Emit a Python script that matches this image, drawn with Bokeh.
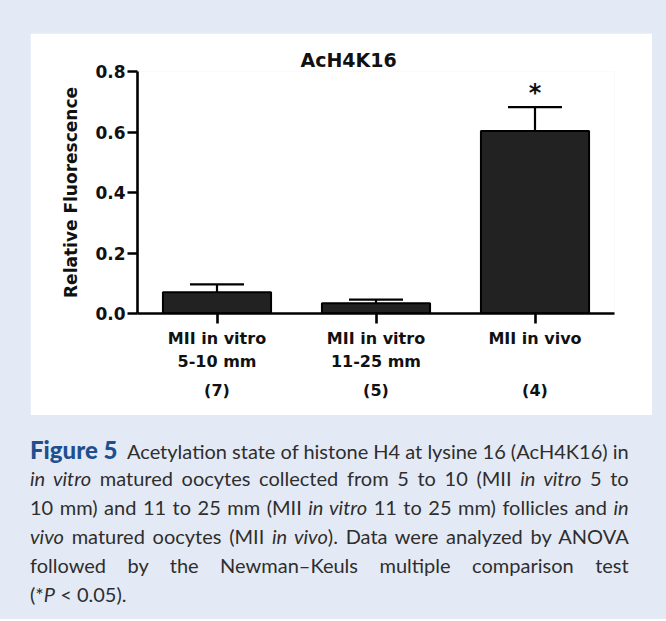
from bokeh.plotting import figure
from bokeh.models import (Range1d, FixedTicker, LinearAxis, Whisker, TeeHead,
                          ColumnDataSource, Div, NumeralTickFormatter, Title)
from bokeh.layouts import column
from bokeh.core.properties import value
from bokeh.embed import file_html
from bokeh.resources import INLINE

# ---------------- data ----------------
chart_title = "AcH4K16"
categories = ["MII in vitro\n5-10 mm", "MII in vitro\n11-25 mm", "MII in vivo"]
n_labels = ["(7)", "(5)", "(4)"]
means = [0.070, 0.034, 0.603]
sems = [0.026, 0.012, 0.079]
marks = ["", "", "*"]
y_ticks = [0.0, 0.2, 0.4, 0.6, 0.8]
y_label = "Relative Fluorescence"

caption_lines = [
    '<b style="color:#1e4f8f;font-size:24px;font-weight:900">Figure 5</b>&nbsp; Acetylation state of histone H4 at lysine 16 (AcH4K16) in',
    '<i>in vitro</i> matured oocytes collected from 5 to 10 (MII <i>in vitro</i> 5 to',
    '10 mm) and 11 to 25 mm (MII <i>in vitro</i> 11 to 25 mm) follicles and <i>in</i>',
    '<i>vivo</i> matured oocytes (MII <i>in vivo</i>). Data were analyzed by ANOVA',
    'followed by the Newman&ndash;Keuls multiple comparison test',
    '(*<i>P</i> &lt; 0.05).',
]

BG = "#e4eaf5"
FONT = "DejaVu Sans"

x_pos = [i + 0.5 for i in range(len(categories))]
src = ColumnDataSource(dict(
    x=x_pos,
    mean=means,
    upper=[m + s for m, s in zip(means, sems)],
    mark=marks,
))

p = figure(frame_width=477, frame_height=242,
           x_range=Range1d(0, len(categories)), y_range=Range1d(0, 0.8),
           output_backend="svg", toolbar_location=None,
           min_border_left=107, min_border_right=38,
           min_border_top=38, min_border_bottom=102,
           margin=(33, 14, 0, 30))
p.title = Title(text=chart_title, align="left", offset=163, standoff=2,
                text_font=FONT, text_font_style="bold", text_font_size="19px",
                text_color="#111111")
p.background_fill_color = "white"
p.border_fill_color = "white"
p.outline_line_color = None
p.grid.grid_line_color = None

p.vbar(x="x", top="mean", width=0.68, source=src,
       fill_color="#222222", line_color="black", line_width=2)

p.add_layout(Whisker(source=src, base="x", upper="upper", lower="mean",
                     dimension="height", line_width=2.2, line_color="black",
                     upper_head=TeeHead(size=54, line_width=2.2, line_color="black"),
                     lower_head=None, level="overlay"))

p.text(x="x", y="upper", text="mark", source=src,
       text_font=value(FONT), text_font_style="bold", text_font_size="24px",
       text_align="center", text_baseline="alphabetic", y_offset=-14,
       text_color="#111111")

def style_axis(ax):
    ax.axis_line_width = 2.6
    ax.axis_line_color = "black"
    ax.major_tick_line_width = 2.6
    ax.major_tick_line_color = "black"
    ax.major_tick_out = 10
    ax.major_tick_in = 0
    ax.minor_tick_line_color = None
    ax.major_label_text_font = FONT
    ax.major_label_text_font_style = "bold"
    ax.major_label_text_font_size = "16px"
    ax.major_label_text_color = "#111111"

# y axis
ya = p.yaxis[0]
style_axis(ya)
ya.ticker = FixedTicker(ticks=y_ticks)
ya.formatter = NumeralTickFormatter(format="0.0")
ya.major_label_text_font_size = "17px"
ya.major_label_standoff = 2
ya.axis_label = y_label
ya.axis_label_text_font = FONT
ya.axis_label_text_font_style = "bold"
ya.axis_label_text_font_size = "17px"
ya.axis_label_text_color = "#111111"
ya.axis_label_standoff = 11

# x axis (categories)
xa = p.xaxis[0]
style_axis(xa)
xa.ticker = FixedTicker(ticks=x_pos)
xa.major_label_overrides = {x: c for x, c in zip(x_pos, categories)}
xa.major_label_standoff = 5
xa.major_label_text_line_height = 1.24

# second x axis with group sizes
xn = LinearAxis(ticker=FixedTicker(ticks=x_pos),
                major_label_overrides={x: n for x, n in zip(x_pos, n_labels)})
style_axis(xn)
xn.axis_line_color = None
xn.major_tick_line_color = None
xn.major_tick_out = 0
xn.major_label_standoff = 6
p.add_layout(xn, "below")

html = "".join(
    f'<div style="text-align:justify;text-align-last:justify;height:29px;line-height:29px;white-space:nowrap">{l}</div>'
    for l in caption_lines[:-1]
) + f'<div style="text-align:left;height:29px;line-height:29px">{caption_lines[-1]}</div>'

cap = Div(text=html, width=622, height=174, margin=(20, 14, 10, 30),
          styles={"font-family": "Lato", "font-size": "20px", "color": "#2e2e2e"})

layout = column(p, cap, styles={"background-color": BG}, spacing=0)

open("out.html", "w").write(file_html(layout, INLINE))
